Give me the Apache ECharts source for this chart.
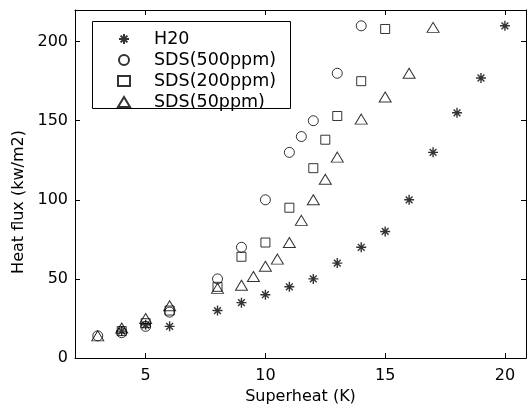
<!DOCTYPE html>
<html>
<head>
<meta charset="utf-8">
<script src="https://cdn.jsdelivr.net/npm/echarts@6/dist/echarts.min.js"></script>
<style>
html,body{margin:0;padding:0;background:#fff;}
#chart{width:529px;height:410px;}
</style>
</head>
<body>
<div id="chart"></div>
<script>
// ---- data ----
var seriesNames = ['H20', 'SDS(500ppm)', 'SDS(200ppm)', 'SDS(50ppm)'];
var h2oX = [4, 5, 6, 8, 9, 10, 11, 12, 13, 14, 15, 16, 17, 18, 19, 20];
var h2oY = [17, 21, 20, 30, 35, 40, 45, 50, 60, 70, 80, 100, 130, 155, 177, 210];
var sds500X = [3, 4, 5, 6, 8, 9, 10, 11, 11.5, 12, 13, 14];
var sds500Y = [14, 16, 20, 29, 50, 70, 100, 130, 140, 150, 180, 210];
var sds200X = [4, 5, 6, 8, 9, 10, 11, 12, 12.5, 13, 14, 15];
var sds200Y = [17, 22, 30, 45, 64, 73, 95, 120, 138, 153, 175, 208];
var sds50X = [3, 4, 5, 6, 8, 9, 9.5, 10, 10.5, 11, 11.5, 12, 12.5, 13, 14, 15, 16, 17];
var sds50Y = [14, 19, 25, 33, 44, 46, 51.5, 58, 62.5, 73, 87, 100, 113, 127, 151, 165, 180, 209];
var xTickLabels = ['5', '10', '15', '20'];
var yTickLabels = ['0', '50', '100', '150', '200'];

function pairs(xs, ys) { return xs.map(function (x, i) { return [x, ys[i]]; }); }

var FONT = 'DejaVu Sans';
var starPath = 'path://M0,5L10,5M5,0L5,10M1.6,1.6L8.4,8.4M1.6,8.4L8.4,1.6';
var hollow = { color: 'transparent', borderColor: '#000', borderWidth: 1 };

var axisCommon = {
  axisLine: { show: true, onZero: false, lineStyle: { color: '#000', width: 1 } },
  axisTick: { show: true, inside: true, length: 5, lineStyle: { color: '#000', width: 1 } },
  splitLine: { show: false }
};

var chart = echarts.init(document.getElementById('chart'), null, { renderer: 'canvas' });
chart.setOption({
  animation: false,
  backgroundColor: '#fff',
  grid: { left: 75, right: 3, top: 10, bottom: 52 },
  graphic: [{
    type: 'rect', z: 100,
    shape: { x: 92.5, y: 21.5, width: 198, height: 87 },
    style: { fill: 'transparent', stroke: '#000', lineWidth: 1 }
  }],
  legend: {
    orient: 'vertical', left: 117, top: 30, padding: 0,
    itemWidth: 12, itemHeight: 10, itemGap: 3, symbolKeepAspect: true,
    textStyle: { fontFamily: FONT, fontSize: 17.5, color: '#000', lineHeight: 18, padding: [0, 0, 0, 19] },
    data: seriesNames
  },
  xAxis: [
    Object.assign({
      type: 'value', position: 'bottom', min: 2.05, max: 20.88, splitNumber: 4,
      name: 'Superheat (K)', nameLocation: 'middle', nameGap: 28,
      nameTextStyle: { fontFamily: FONT, fontSize: 16, color: '#000' },
      axisLabel: {
        fontFamily: FONT, fontSize: 16, color: '#000', margin: 10,
        showMinLabel: false, showMaxLabel: false,
        formatter: function (v) { var s = String(v); return xTickLabels.indexOf(s) >= 0 ? s : ''; }
      }
    }, axisCommon),
    Object.assign({
      type: 'value', position: 'top', min: 2.05, max: 20.88, splitNumber: 4,
      axisLabel: { show: false }
    }, axisCommon)
  ],
  yAxis: [
    Object.assign({
      type: 'value', position: 'left', min: 0, max: 220, interval: 50,
      name: 'Heat flux (kw/m2)', nameLocation: 'middle', nameGap: 47, nameRotate: 90,
      nameTextStyle: { fontFamily: FONT, fontSize: 16, color: '#000', padding: [0, 36, 0, 0] },
      axisLabel: {
        fontFamily: FONT, fontSize: 16, color: '#000', margin: 7,
        showMaxLabel: false,
        formatter: function (v) { var s = String(v); return yTickLabels.indexOf(s) >= 0 ? s : ''; }
      }
    }, axisCommon),
    Object.assign({
      type: 'value', position: 'right', min: 0, max: 220, interval: 50,
      axisLabel: { show: false }
    }, axisCommon)
  ],
  series: [
    { name: seriesNames[0], type: 'scatter', symbol: starPath, symbolSize: 10,
      itemStyle: { color: 'transparent', borderColor: '#000', borderWidth: 1.4 },
      data: pairs(h2oX, h2oY) },
    { name: seriesNames[1], type: 'scatter', symbol: 'circle', symbolSize: 10,
      itemStyle: hollow, data: pairs(sds500X, sds500Y) },
    { name: seriesNames[2], type: 'scatter', symbol: 'rect', symbolSize: 9,
      itemStyle: hollow, data: pairs(sds200X, sds200Y) },
    { name: seriesNames[3], type: 'scatter', symbol: 'triangle', symbolSize: [12, 10],
      itemStyle: hollow, data: pairs(sds50X, sds50Y) }
  ]
});
</script>
</body>
</html>
